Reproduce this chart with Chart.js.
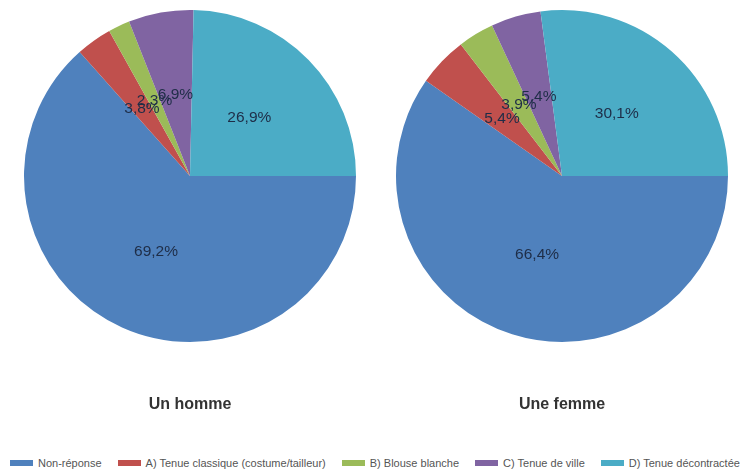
<!DOCTYPE html>
<html>
<head>
<meta charset="utf-8">
<script src="https://cdn.jsdelivr.net/npm/chart.js@4/dist/chart.umd.min.js"></script>
<style>
  html, body { margin:0; padding:0; background:#fff; }
  #wrap { position:relative; width:750px; height:475px; overflow:hidden; }
  .pane { position:absolute; top:0; width:375px; height:420px; }
  #legend { position:absolute; left:10px; top:455px; width:740px; height:16px; font-family:"Liberation Sans", Arial, sans-serif; font-size:11px; color:#555; display:flex; white-space:nowrap; }
  .item { height:16px; line-height:16px; margin-right:16px; white-space:nowrap; flex:none; }
  .box { display:inline-block; width:23px; height:6px; vertical-align:middle; margin-right:5px; position:relative; top:-1px; }
</style>
</head>
<body>
<div id="wrap">
  <div class="pane" style="left:0"><canvas id="c1" width="375" height="420"></canvas></div>
  <div class="pane" style="left:375px"><canvas id="c2" width="375" height="420"></canvas></div>
  <div id="legend"></div>
</div>
<script>
// ---- data ----
const categories = ["Non-réponse", "A) Tenue classique (costume/tailleur)", "B) Blouse blanche", "C) Tenue de ville", "D) Tenue décontractée"];
const hommeValues = [69.2, 3.8, 2.3, 6.9, 26.9];
const femmeValues = [66.4, 5.4, 3.9, 5.4, 30.1];
const chartTitles = ["Un homme", "Une femme"];
const colors = ["#4F81BD", "#C0504D", "#9BBB59", "#8064A2", "#4BACC6"];

const labelPlugin = {
  id: 'sliceLabels',
  afterDatasetsDraw(chart) {
    const ctx = chart.ctx;
    const meta = chart.getDatasetMeta(0);
    const data = chart.data.datasets[0].data;
    ctx.save();
    ctx.font = '15.5px "Liberation Sans", Arial, sans-serif';
    ctx.fillStyle = '#1e2d47';
    ctx.textAlign = 'center';
    ctx.textBaseline = 'middle';
    meta.data.forEach((arc, i) => {
      const p = arc.getProps(['x','y','startAngle','endAngle','outerRadius'], true);
      const mid = (p.startAngle + p.endAngle) / 2;
      const r = p.outerRadius * 0.5;
      const txt = data[i].toFixed(1).replace('.', ',') + '%';
      ctx.fillText(txt, p.x + Math.cos(mid) * r, p.y + Math.sin(mid) * r);
    });
    ctx.restore();
  }
};

function makePie(id, values, title, padL, padR) {
  return new Chart(document.getElementById(id), {
    type: 'pie',
    data: {
      labels: categories,
      datasets: [{ data: values, backgroundColor: colors, borderWidth: 0 }]
    },
    options: {
      responsive: false,
      animation: false,
      events: [],
      rotation: 90,
      layout: { padding: { top: 10, bottom: 0, left: padL, right: padR } },
      plugins: {
        legend: { display: false },
        tooltip: { enabled: false },
        title: {
          display: true,
          text: title,
          position: 'bottom',
          color: '#333',
          font: { family: '"Liberation Sans", Arial, sans-serif', size: 16, weight: 'bold', lineHeight: 1.2 },
          padding: { top: 52.8, bottom: 6 }
        }
      }
    },
    plugins: [labelPlugin]
  });
}

makePie('c1', hommeValues, chartTitles[0], 24, 19);
makePie('c2', femmeValues, chartTitles[1], 21, 22);

// legend from the same arrays
const legend = document.getElementById('legend');
categories.forEach((c, i) => {
  const d = document.createElement('div');
  d.className = 'item';
  const b = document.createElement('span');
  b.className = 'box';
  b.style.background = colors[i];
  d.appendChild(b);
  d.appendChild(document.createTextNode(c));
  legend.appendChild(d);
});
</script>
</body>
</html>
